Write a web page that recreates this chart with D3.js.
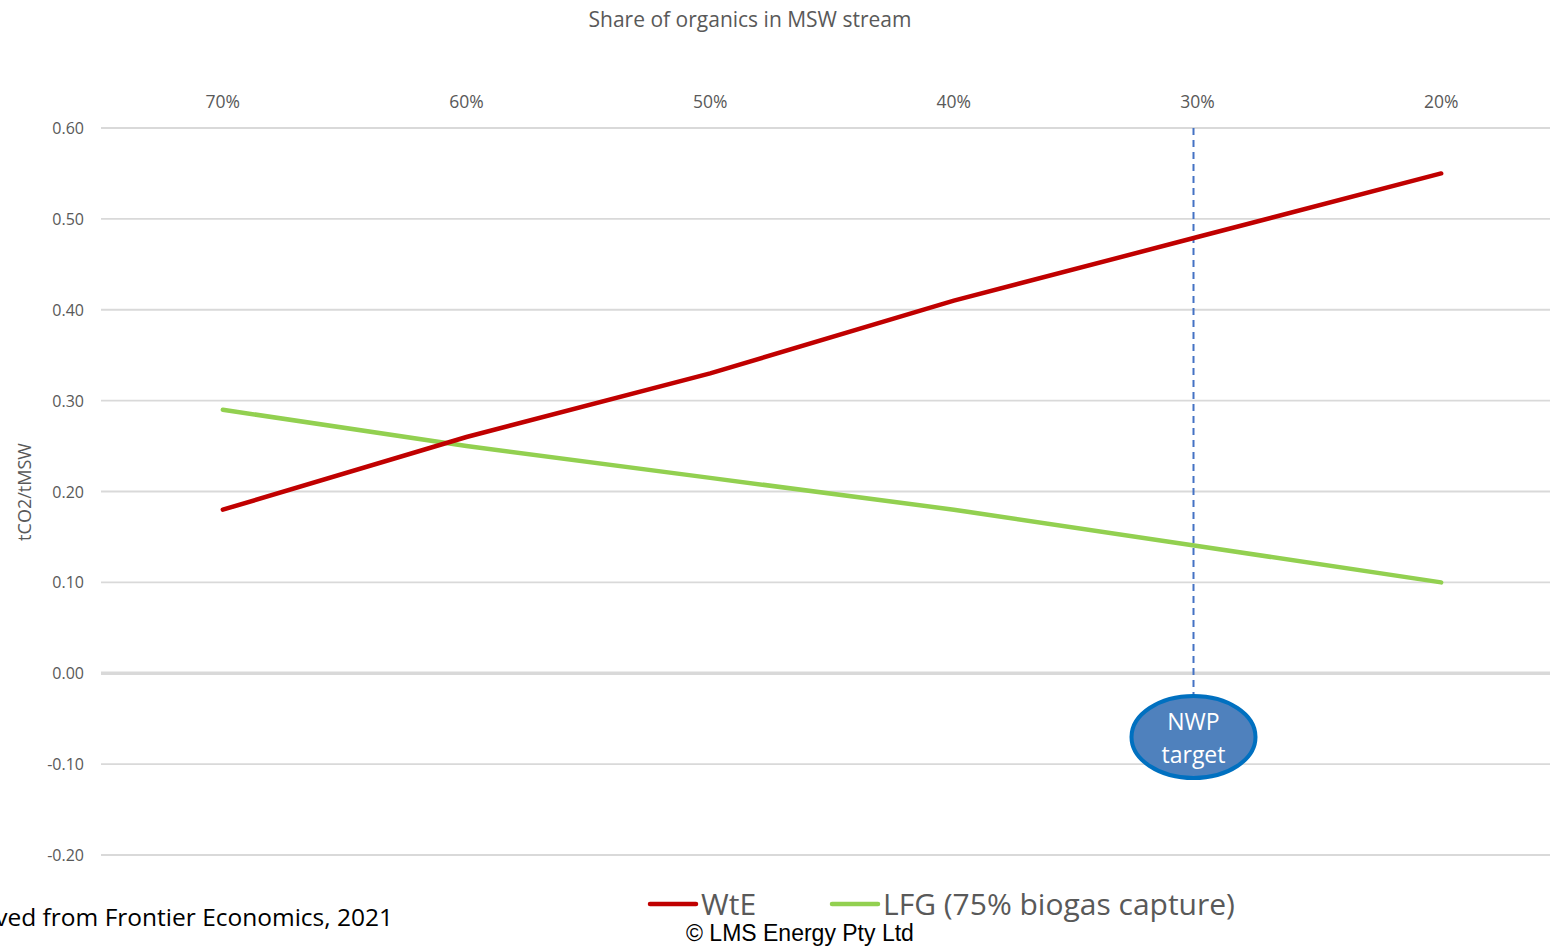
<!DOCTYPE html>
<html>
<head>
<meta charset="utf-8">
<script src="https://cdn.jsdelivr.net/npm/d3@7"></script>
<style>
  html, body { margin: 0; padding: 0; background: #fff; }
  svg { display: block; }
</style>
</head>
<body>
<svg id="chart" width="1550" height="946"></svg>
<script>
// Share of organics categories (top axis)
const categories = ["70%", "60%", "50%", "40%", "30%", "20%"];
// Emissions, tCO2 per tonne of MSW
const wteValues = [0.18, 0.26, 0.33, 0.41, 0.48, 0.55];
const lfgValues = [0.29, 0.25, 0.215, 0.18, 0.14, 0.10];
const yTicks = [0.60, 0.50, 0.40, 0.30, 0.20, 0.10, 0.00, -0.10, -0.20];
const seriesNames = ["WtE", "LFG (75% biogas capture)"];
const targetCategory = "30%";

const svg = d3.select("#chart");
const gridColor = "#d9d9d9";
const textColor = "#595959";
const font = "'Open Sans', 'Noto Sans', sans-serif";

const x = d3.scaleBand().domain(categories).range([101, 1563]);
const y = d3.scaleLinear().domain([-0.2, 0.6]).range([855, 128]);
const cx = d => x(d) + x.bandwidth() / 2;

// Horizontal gridlines
svg.append("g").selectAll("line").data(yTicks).join("line")
  .attr("x1", 101).attr("x2", 1550)
  .attr("y1", d => y(d)).attr("y2", d => y(d))
  .attr("stroke", gridColor)
  .attr("stroke-width", d => d === 0 ? 3.5 : 1.8);

// Y axis labels (plain hyphen for negatives)
const fmt = d3.formatLocale({ decimal: ".", thousands: ",", grouping: [3], currency: ["", ""], minus: "-" }).format(".2f");
const yAxis = d3.axisLeft(y).tickValues(yTicks).tickFormat(fmt).tickSize(0).tickPadding(0);
const yg = svg.append("g").attr("transform", "translate(84,0)").call(yAxis);
yg.select(".domain").remove();
yg.selectAll("text").attr("fill", textColor).attr("font-family", font).attr("font-size", 16).attr("dy", "0.35em");

// Top category axis
const xAxis = d3.axisTop(x).tickSize(0).tickPadding(0);
const xg = svg.append("g").attr("transform", "translate(0,108)").call(xAxis);
xg.select(".domain").remove();
xg.selectAll("text").attr("fill", textColor).attr("font-family", font).attr("font-size", 17.5);

// Axis titles
svg.append("text").attr("x", 750).attr("y", 27).attr("text-anchor", "middle")
  .attr("fill", textColor).attr("font-family", font).attr("font-size", 21)
  .text("Share of organics in MSW stream");
svg.append("text").attr("transform", "translate(31,492) rotate(-90)").attr("text-anchor", "middle")
  .attr("fill", textColor).attr("font-family", font).attr("font-size", 18)
  .text("tCO2/tMSW");

// NWP target marker
const tx = cx(targetCategory) - 4;
svg.append("line").attr("x1", tx).attr("x2", tx).attr("y1", y(0.6)).attr("y2", 696)
  .attr("stroke", "#4472c4").attr("stroke-width", 2).attr("stroke-dasharray", "7,5");

// Series lines
const line = d3.line().x((d, i) => cx(categories[i])).y(d => y(d));
svg.append("path").datum(lfgValues).attr("d", line)
  .attr("fill", "none").attr("stroke", "#92d050").attr("stroke-width", 4.5).attr("stroke-linecap", "round");
svg.append("path").datum(wteValues).attr("d", line)
  .attr("fill", "none").attr("stroke", "#c00000").attr("stroke-width", 4.5).attr("stroke-linecap", "round");

// Ellipse callout
svg.append("ellipse").attr("cx", tx).attr("cy", 737).attr("rx", 62).attr("ry", 41)
  .attr("fill", "#4f81bd").attr("stroke", "#0070c0").attr("stroke-width", 4);
svg.append("text").attr("x", tx).attr("y", 730).attr("text-anchor", "middle")
  .attr("fill", "#fff").attr("font-family", font).attr("font-size", 23).text("NWP");
svg.append("text").attr("x", tx).attr("y", 763).attr("text-anchor", "middle")
  .attr("fill", "#fff").attr("font-family", font).attr("font-size", 23).text("target");

// Legend
const legend = [
  { name: seriesNames[0], color: "#c00000", x: 650 },
  { name: seriesNames[1], color: "#92d050", x: 832 }
];
const lg = svg.append("g");
lg.selectAll("line").data(legend).join("line")
  .attr("x1", d => d.x).attr("x2", d => d.x + 46).attr("y1", 904).attr("y2", 904)
  .attr("stroke", d => d.color).attr("stroke-width", 4.5).attr("stroke-linecap", "round");
lg.selectAll("text").data(legend).join("text")
  .attr("x", d => d.x + 51).attr("y", 915)
  .attr("fill", textColor).attr("font-family", font).attr("font-size", 30)
  .text(d => d.name);

// Source and copyright
svg.append("text").attr("x", 393).attr("y", 926).attr("text-anchor", "end")
  .attr("fill", "#000").attr("font-family", font).attr("font-size", 24.5)
  .text("Derived from Frontier Economics, 2021");
svg.append("text").attr("x", 686).attr("y", 941)
  .attr("fill", "#000").attr("font-family", "'Liberation Sans', Arial, sans-serif").attr("font-size", 23)
  .text("© LMS Energy Pty Ltd");
</script>
</body>
</html>
